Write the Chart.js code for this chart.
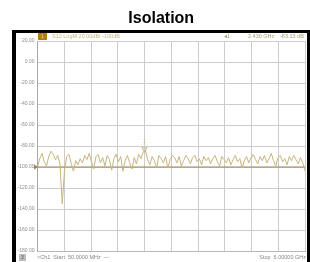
<!DOCTYPE html>
<html>
<head>
<meta charset="utf-8">
<script src="https://cdn.jsdelivr.net/npm/chart.js@4.4.1/dist/chart.umd.min.js"></script>
<style>
  html, body { margin:0; padding:0; background:#fff; }
  #wrap { width:310px; height:262px; }
</style>
</head>
<body>
<div id="wrap"><canvas id="c" width="310" height="262"></canvas></div>
<script>
// ── DATOS ───────────────────────────────────────────────
const START_GHZ = 0.05;
const STOP_GHZ  = 6.0;
const Y_MIN = -180, Y_MAX = 20, Y_STEP = 20;
const REF_DB = -100;
const MARKER_GHZ = 2.430;
const MARKER_DB  = -83.13;

// S12 trace (dB), sweep points evenly spaced from start to stop
const traceDb = [
  -100, -92, -87, -95, -99, -90, -85, -88, -93, -89,
  -97, -135, -104, -90, -88, -97, -104, -94, -98, -92,
  -96, -89, -93, -87, -95, -102, -90, -88, -96, -91,
  -99, -89, -93, -103, -92, -88, -95, -90, -104, -94,
  -89, -96, -102, -91, -97, -88, -92, -86, -84, -93,
  -98, -90, -94, -101, -89, -92, -96, -90, -101, -93,
  -89, -91, -96, -90, -99, -94, -89, -92, -97, -91,
  -89, -95, -92, -98, -90, -94, -91, -97, -92, -89,
  -95, -99, -90, -93, -96, -91, -98, -93, -89, -95,
  -92, -101, -94, -90, -96, -91, -88, -93, -97, -90,
  -94, -89, -96, -92, -87, -94, -99, -91, -89, -95,
  -92, -98, -90, -94, -89, -93, -97, -91, -96, -104
];

const yLabels = ['20.00','0.00','-20.00','-40.00','-60.00','-80.00','-100.00','-120.00','-140.00','-160.00','-180.00'];

const headerText = 'S12 LogM 20.00dB/ -100dB';
const markerText = ['\u25C21', '2.430 GHz', '-83.13 dB'];
const startText  = '>Ch1  Start  50.0000 MHz  \u2014';
const stopText   = 'Stop  6.00000 GHz';

// ── COLORES ─────────────────────────────────────────────
const TRACE = '#c6b57c';
const REFC  = '#9a8450';
const GRID  = '#cccccc';
const LABEL = '#8c8c8c';

const sweep = traceDb.map((v, i) => ({
  x: START_GHZ + i * (STOP_GHZ - START_GHZ) / (traceDb.length - 1),
  y: v
}));

// ── MARCO / TEXTOS ──────────────────────────────────────
const screenPlugin = {
  id: 'screen',
  beforeDraw(chart){
    const c = chart.ctx;
    c.save();
    c.fillStyle = '#000';
    c.fillRect(12, 30, 298, 232);
    c.fillStyle = '#fff';
    c.fillRect(16, 33, 291, 229);
    c.restore();
  },
  afterDraw(chart){
    const c = chart.ctx;
    const ys = chart.scales.y;
    c.save();
    // header
    c.fillStyle = '#b07d14';
    c.fillRect(38, 33, 9, 7);
    c.fillStyle = '#f0d9a0';
    c.font = '5px "Liberation Sans"';
    c.textBaseline = 'middle';
    c.fillText('1', 41, 36.5);
    c.fillStyle = '#c9b57a';
    c.font = '5.5px "Liberation Sans"';
    c.fillText(headerText, 52, 36.5);
    c.fillStyle = '#a89a78';
    c.fillText(markerText[0], 224, 36.5);
    c.fillText(markerText[1], 248, 36.5);
    c.fillText(markerText[2], 280, 36.5);
    // reference arrow
    const ry = ys.getPixelForValue(REF_DB);
    c.fillStyle = REFC;
    c.beginPath();
    c.moveTo(34, ry - 2.5); c.lineTo(38, ry); c.lineTo(34, ry + 2.5);
    c.closePath(); c.fill();
    // footer
    c.fillStyle = '#bdbdbd';
    c.fillRect(19, 254, 7, 7);
    c.fillStyle = '#555';
    c.font = '5px "Liberation Sans"';
    c.fillText('3', 21, 257.5);
    c.fillStyle = '#888';
    c.font = '5.5px "Liberation Sans"';
    c.fillText(startText, 37, 257.5);
    c.textAlign = 'right';
    c.fillText(stopText, 306, 257.5);
    // marker label
    const mx = chart.scales.x.getPixelForValue(MARKER_GHZ);
    const my = ys.getPixelForValue(MARKER_DB);
    c.fillStyle = TRACE;
    c.textAlign = 'center';
    c.font = '5px "Liberation Sans"';
    c.fillText('1', mx, my - 8);
    c.restore();
  }
};

// ── GRÁFICO ─────────────────────────────────────────────
new Chart(document.getElementById('c'), {
  type: 'line',
  data: {
    datasets: [
      {
        data: sweep,
        borderColor: TRACE,
        borderWidth: 1,
        pointRadius: 0,
        tension: 0,
        order: 2
      },
      {
        data: [{x: START_GHZ, y: REF_DB}, {x: STOP_GHZ, y: REF_DB}],
        borderColor: REFC,
        borderWidth: 1,
        pointRadius: 0,
        order: 3
      },
      {
        data: [{x: MARKER_GHZ, y: MARKER_DB}],
        showLine: false,
        pointStyle: 'triangle',
        rotation: 180,
        pointRadius: 3,
        borderColor: TRACE,
        borderWidth: 1,
        backgroundColor: 'rgba(0,0,0,0)',
        order: 1
      }
    ]
  },
  options: {
    responsive: false,
    animation: false,
    events: [],
    layout: { padding: { left: 16, right: 3.5, top: 0, bottom: 11 } },
    plugins: {
      legend: { display: false },
      tooltip: { enabled: false },
      title: {
        display: true,
        text: 'Isolation',
        color: '#000',
        font: { family: '"Liberation Sans", Arial, sans-serif', size: 16, weight: 'bold' },
        padding: { top: 8.9, bottom: 12.9 }
      }
    },
    scales: {
      x: {
        type: 'linear',
        min: START_GHZ,
        max: STOP_GHZ,
        afterBuildTicks(scale){
          const t = [];
          for (let k = 0; k <= 10; k++) t.push({ value: START_GHZ + k * (STOP_GHZ - START_GHZ) / 10 });
          scale.ticks = t;
        },
        afterFit(scale){ scale.height = 0; },
        ticks: { display: false },
        grid: { color: GRID, lineWidth: 1, drawTicks: false },
        border: { display: true, color: '#b8b8b8' }
      },
      y: {
        min: Y_MIN,
        max: Y_MAX,
        ticks: {
          stepSize: Y_STEP,
          color: LABEL,
          font: { family: '"Liberation Sans"', size: 5 },
          padding: 3,
          callback: (v, i, ticks) => yLabels[ticks.length - 1 - i]
        },
        afterFit(scale){ scale.width = 21.5; },
        grid: { color: GRID, lineWidth: 1, drawTicks: false },
        border: { display: true, color: '#a8a8a8' }
      }
    }
  },
  plugins: [screenPlugin]
});
</script>
</body>
</html>
